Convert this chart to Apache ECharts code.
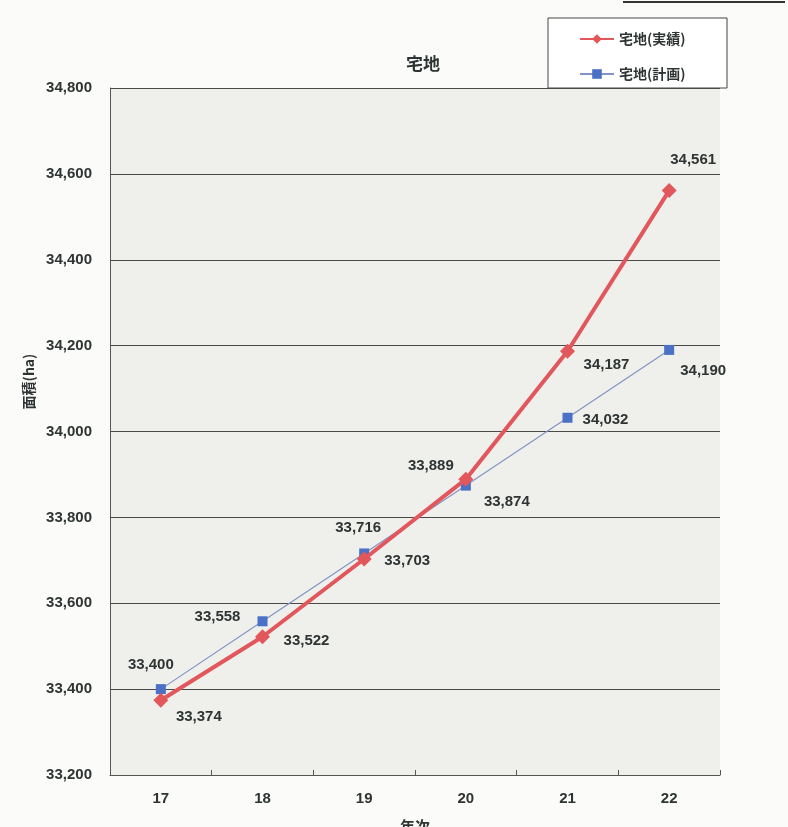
<!DOCTYPE html>
<html><head><meta charset="utf-8">
<script src="https://cdn.jsdelivr.net/npm/echarts@6/dist/echarts.min.js"></script>
<style>html,body{margin:0;padding:0;background:#fbfbf9;}#c{width:788px;height:827px;}</style>
</head><body><div id="c"></div>
<script>
const categories = ['17','18','19','20','21','22'];
const actual = [33374, 33522, 33703, 33889, 34187, 34561];
const plan = [33400, 33558, 33716, 33874, 34032, 34190];
const yTicks = {min: 33200, max: 34800, interval: 200};

const actualOffsets = [[38,17],[44,4],[43,2],[-35,-13],[39,14],[24,-31]];
const planOffsets = [[-10,-24],[-45,-4],[-6,-26],[41,16],[38,2],[34,21]];

const fmt = v => v.toLocaleString('en-US');
const labelFont = {fontFamily:'Liberation Sans, Arial, sans-serif', fontSize:15, fontWeight:'bold', color:'#2e3433'};

function mk(vals, offs){
  return vals.map((v,i)=>({value:v, label:{show:true, position:'inside', offset:offs[i], formatter:fmt(v), ...labelFont}}));
}

const chart = echarts.init(document.getElementById('c'));
chart.setOption({
  backgroundColor:'#fbfbf9',
  animation:false,
  title:{text:'宅地', left:418, top:50, textAlign:'center',
    textStyle:{fontFamily:'Noto Sans CJK JP', fontSize:17, fontWeight:'bold', color:'#2e3433'}},
  graphic:[
    {type:'rect', shape:{x:548,y:18,width:179,height:70}, style:{fill:'#ffffff', stroke:'#444', lineWidth:1}, z:-1},
    {type:'line', shape:{x1:623,y1:2,x2:785,y2:2}, style:{stroke:'#333', lineWidth:2}}
  ],
  legend:{orient:'vertical', left:574, top:27, itemGap:21, itemWidth:34, itemHeight:12,
    textStyle:{fontFamily:'Noto Sans CJK JP', fontSize:14, fontWeight:'bold', color:'#2e3433'},
    data:['宅地(実績)','宅地(計画)']},
  grid:{left:110, right:68, top:88, bottom:52, outerBoundsMode:'none', containLabel:false,
    show:true, backgroundColor:'#efefeb', borderWidth:0},
  xAxis:{type:'category', data:categories, boundaryGap:true,
    name:'年次', nameLocation:'middle', nameGap:44,
    nameTextStyle:{fontFamily:'Noto Sans CJK JP', fontSize:15, fontWeight:'bold', color:'#2e3433'},
    axisLine:{lineStyle:{color:'#555', width:1}},
    axisTick:{show:true, inside:true, length:5, lineStyle:{color:'#555'}},
    axisLabel:{margin:16, ...labelFont}},
  yAxis:{type:'value', ...yTicks,
    name:'面積(ha)', nameLocation:'middle', nameGap:68, nameRotate:90,
    nameTextStyle:{fontFamily:'Noto Sans CJK JP', fontSize:14, fontWeight:'bold', color:'#2e3433', padding:[0,0,0,100]},
    axisLine:{show:true, lineStyle:{color:'#555', width:1}},
    axisTick:{show:false},
    splitLine:{lineStyle:{color:'#4a4a4a', width:1}},
    axisLabel:{margin:18, formatter:v=>fmt(v), ...labelFont}},
  series:[
    {name:'宅地(実績)', type:'line', data:mk(actual, actualOffsets), symbol:'diamond', symbolSize:15,
     lineStyle:{color:'#e2575c', width:4}, itemStyle:{color:'#e2575c'}, z:3},
    {name:'宅地(計画)', type:'line', data:mk(plan, planOffsets), symbol:'rect', symbolSize:10,
     lineStyle:{color:'#8194c4', width:1.2}, itemStyle:{color:'#4b71c6'}, z:2}
  ]
});
</script></body></html>
